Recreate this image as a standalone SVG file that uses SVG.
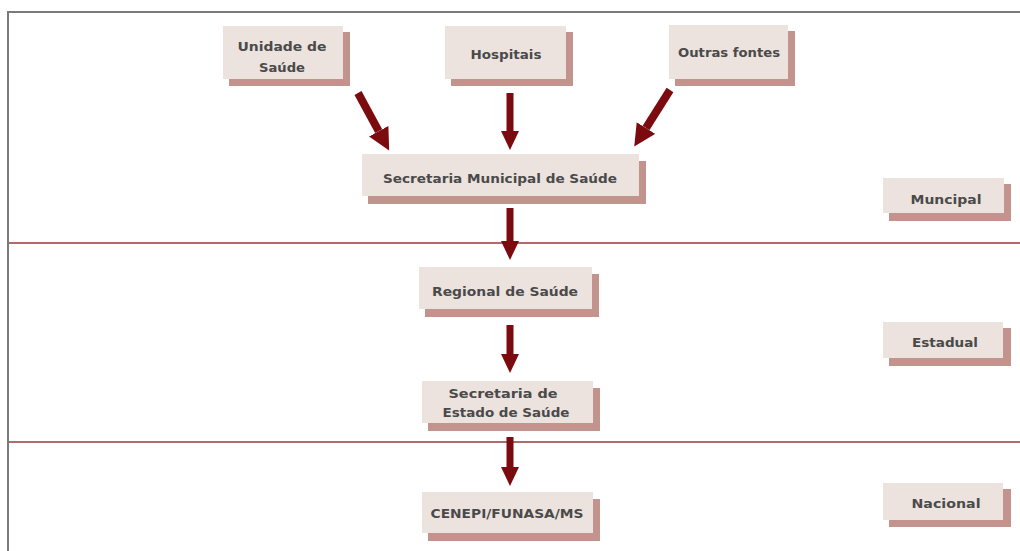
<svg xmlns="http://www.w3.org/2000/svg" width="1020" height="551" viewBox="0 0 1020 551">
<style>
.box{fill:#ece2de}
.sh{fill:#c3938d}
.t{font-family:"DejaVu Sans","Liberation Sans",sans-serif;font-weight:bold;font-size:12px;fill:#4a4a4a;text-anchor:middle}
.arr{stroke:#7b0b0e;stroke-width:7;fill:none}
.arrd{stroke:#7b0b0e;stroke-width:8;fill:none}
.sep{stroke:#b06c6c;stroke-width:2}
</style>
<defs>
<marker id="ah" markerUnits="userSpaceOnUse" markerWidth="20" markerHeight="20" refX="0" refY="9" orient="auto">
<path d="M0,0 L19,9 L0,18 z" fill="#7b0b0e"/>
</marker>
<marker id="ahd" markerUnits="userSpaceOnUse" markerWidth="24" markerHeight="24" refX="0" refY="11" orient="auto">
<path d="M0,0 L22,11 L0,22 z" fill="#7b0b0e"/>
</marker>
</defs>
<rect width="1020" height="551" fill="#ffffff"/>
<rect x="8" y="12" width="1030" height="560" fill="none" stroke="#7a7a7a" stroke-width="2"/>
<g id="separators">
<line class="sep" x1="9" y1="243" x2="1020" y2="243"/>
<line class="sep" x1="9" y1="442" x2="1020" y2="442"/>
</g>
<g id="unidade">
<rect class="sh" x="229" y="32" width="121" height="54"/>
<rect class="box" x="223" y="26" width="120" height="53"/>
<text class="t" x="282" y="51" textLength="89" lengthAdjust="spacingAndGlyphs">Unidade de</text>
<text class="t" x="282" y="72" textLength="46" lengthAdjust="spacingAndGlyphs">Saúde</text>
</g>
<g id="hospitais">
<rect class="sh" x="451" y="32" width="122" height="54"/>
<rect class="box" x="445" y="26" width="121" height="53"/>
<text class="t" x="506" y="59" textLength="71" lengthAdjust="spacingAndGlyphs">Hospitais</text>
</g>
<g id="outras">
<rect class="sh" x="675" y="31" width="120" height="55"/>
<rect class="box" x="669" y="25" width="119" height="54"/>
<text class="t" x="729" y="57" textLength="102" lengthAdjust="spacingAndGlyphs">Outras fontes</text>
</g>
<g id="sec-municipal">
<rect class="sh" x="368" y="161" width="278" height="43"/>
<rect class="box" x="362" y="154" width="277" height="42"/>
<text class="t" x="500" y="183" textLength="234" lengthAdjust="spacingAndGlyphs">Secretaria Municipal de Saúde</text>
</g>
<g id="regional">
<rect class="sh" x="425" y="274" width="174" height="43"/>
<rect class="box" x="419" y="267" width="173" height="42"/>
<text class="t" x="505" y="296" textLength="146" lengthAdjust="spacingAndGlyphs">Regional de Saúde</text>
</g>
<g id="sec-estado">
<rect class="sh" x="428" y="388" width="172" height="43"/>
<rect class="box" x="422" y="381" width="171" height="42"/>
<text class="t" x="503" y="398" textLength="109" lengthAdjust="spacingAndGlyphs">Secretaria de</text>
<text class="t" x="506" y="417" textLength="127" lengthAdjust="spacingAndGlyphs">Estado de Saúde</text>
</g>
<g id="cenepi">
<rect class="sh" x="428" y="499" width="172" height="42"/>
<rect class="box" x="422" y="492" width="171" height="41"/>
<text class="t" x="507" y="518" textLength="153" lengthAdjust="spacingAndGlyphs">CENEPI/FUNASA/MS</text>
</g>
<g id="municipal">
<rect class="sh" x="889" y="184" width="122" height="37"/>
<rect class="box" x="883" y="178" width="121" height="35"/>
<text class="t" x="946" y="204" textLength="71" lengthAdjust="spacingAndGlyphs">Muncipal</text>
</g>
<g id="estadual">
<rect class="sh" x="889" y="328" width="122" height="38"/>
<rect class="box" x="883" y="322" width="120" height="36"/>
<text class="t" x="945" y="347" textLength="66" lengthAdjust="spacingAndGlyphs">Estadual</text>
</g>
<g id="nacional">
<rect class="sh" x="889" y="489" width="122" height="38"/>
<rect class="box" x="883" y="483" width="120" height="37"/>
<text class="t" x="946" y="508" textLength="69" lengthAdjust="spacingAndGlyphs">Nacional</text>
</g>
<g id="connectors">
<line class="arrd" x1="358" y1="93" x2="378.7" y2="131.2" marker-end="url(#ahd)"/>
<line class="arr" x1="510" y1="93" x2="510" y2="131" marker-end="url(#ah)"/>
<line class="arrd" x1="670" y1="90" x2="646" y2="128" marker-end="url(#ahd)"/>
<line class="arr" x1="510" y1="208" x2="510" y2="241" marker-end="url(#ah)"/>
<line class="arr" x1="510" y1="325" x2="510" y2="354" marker-end="url(#ah)"/>
<line class="arr" x1="510" y1="437" x2="510" y2="467" marker-end="url(#ah)"/>
</g>
</svg>
